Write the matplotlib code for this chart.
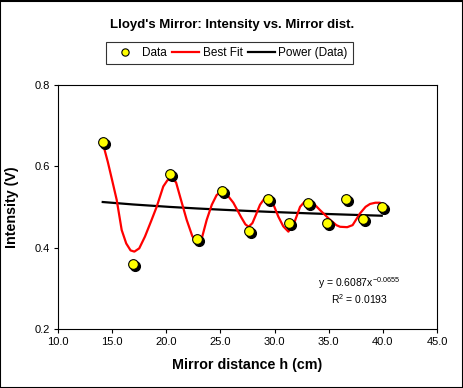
import matplotlib
matplotlib.use('Agg')
import matplotlib.pyplot as plt
import matplotlib.transforms as mtransforms
from matplotlib.patches import Rectangle
import numpy as np

plt.rcParams['font.family'] = ['Liberation Sans', 'DejaVu Sans']
plt.rcParams['mathtext.fontset'] = 'custom'
plt.rcParams['mathtext.rm'] = 'Liberation Sans'

# measured data
dist_cm = [14.13, 16.95, 20.34, 22.81, 25.14, 27.64, 29.42, 31.36, 33.08,
           34.81, 36.59, 38.19, 39.89]
intensity = [0.66, 0.36, 0.58, 0.42, 0.54, 0.44, 0.52, 0.46, 0.51,
             0.46, 0.52, 0.47, 0.50]

# best fit curve
fit_x = [14.15, 14.6, 15.0, 15.42, 15.88, 16.3, 16.7, 17.05, 17.5, 18.03,
         18.6, 19.11, 19.72, 20.1, 20.5, 20.9, 21.27, 21.88, 22.4, 22.88,
         23.3, 23.73, 24.2, 24.65, 25.1, 25.6, 26.19, 26.9, 27.3, 27.6,
         27.95, 28.3, 28.65, 29.05, 29.42, 29.9, 30.34, 30.8, 31.27, 31.8,
         32.35, 32.75, 33.11, 33.6, 34.19, 35.12, 35.7, 36.04, 36.7, 37.2,
         37.89, 38.4, 38.81, 39.3, 39.73, 39.95]
fit_y = [0.655, 0.61, 0.565, 0.517, 0.443, 0.41, 0.393, 0.390, 0.398, 0.427,
         0.465, 0.500, 0.550, 0.565, 0.570, 0.560, 0.525, 0.468, 0.428, 0.411,
         0.425, 0.468, 0.505, 0.529, 0.537, 0.530, 0.510, 0.475, 0.457, 0.451,
         0.460, 0.482, 0.505, 0.520, 0.525, 0.505, 0.476, 0.452, 0.439, 0.460,
         0.500, 0.512, 0.515, 0.508, 0.492, 0.468, 0.455, 0.451, 0.450, 0.455,
         0.484, 0.500, 0.507, 0.510, 0.510, 0.505]

# power trendline coefficients
pow_a = 0.6087
pow_b = -0.0655

fig = plt.figure(figsize=(4.64, 3.88), dpi=100)
ax = fig.add_axes([0.125, 0.152, 0.817, 0.630])

ax.plot(fit_x, fit_y, color='red', lw=1.6, label='Best Fit', zorder=3)
x_arr = np.array(dist_cm)
ax.plot(x_arr, pow_a * x_arr ** pow_b, color='black', lw=1.6,
        label='Power (Data)', zorder=2)

# marker shadow
shadow = mtransforms.offset_copy(ax.transData, fig=fig, x=1.5, y=-1.5, units='points')
ax.plot(dist_cm, intensity, 'o', ms=7, color='black', transform=shadow, zorder=4)
ax.plot(dist_cm, intensity, 'o', ms=7, mfc='yellow', mec='black', mew=0.8,
        label='Data', zorder=5)

ax.set_xlim(10, 45)
ax.set_ylim(0.2, 0.8)
ax.set_xticks(np.arange(10, 45.1, 5))
ax.set_yticks([0.2, 0.4, 0.6, 0.8])
ax.set_xticklabels(['%.1f' % v for v in np.arange(10, 45.1, 5)])
ax.set_yticklabels(['0.2', '0.4', '0.6', '0.8'])
ax.tick_params(direction='out', length=3, width=0.8, labelsize=8, pad=3)
for s in ax.spines.values():
    s.set_linewidth(0.8)

ax.set_xlabel('Mirror distance h (cm)', fontsize=10.3, fontweight='bold', labelpad=8)
ax.set_ylabel('Intensity (V)', fontsize=10.3, fontweight='bold', labelpad=11)

ax.text(37.8, 0.3135, r'y = 0.6087x$^{\mathregular{-0.0655}}$', fontsize=7.5,
        ha='center', va='center')
ax.text(37.8, 0.274, r'R$^{\mathregular{2}}$ = 0.0193', fontsize=7.5,
        ha='center', va='center')

fig.text(0.5, 0.935, "Lloyd's Mirror: Intensity vs. Mirror dist.", fontsize=9.5,
         fontweight='bold', ha='center', va='center')

handles, labels = ax.get_legend_handles_labels()
order = [2, 0, 1]
leg = fig.legend([handles[i] for i in order], [labels[i] for i in order],
                 loc='center', bbox_to_anchor=(0.4946, 0.8634), ncol=3,
                 fontsize=8.5, frameon=True, fancybox=False, edgecolor='black',
                 handlelength=2.3, handletextpad=0.3, columnspacing=0.45,
                 borderpad=0.4, markerscale=0.75)
leg.get_frame().set_linewidth(0.8)

fig.patches.append(Rectangle((0.001, 0.001), 0.997, 0.997, transform=fig.transFigure,
                             fill=False, edgecolor='black', lw=1.5))

fig.savefig('out.png', dpi=100)
